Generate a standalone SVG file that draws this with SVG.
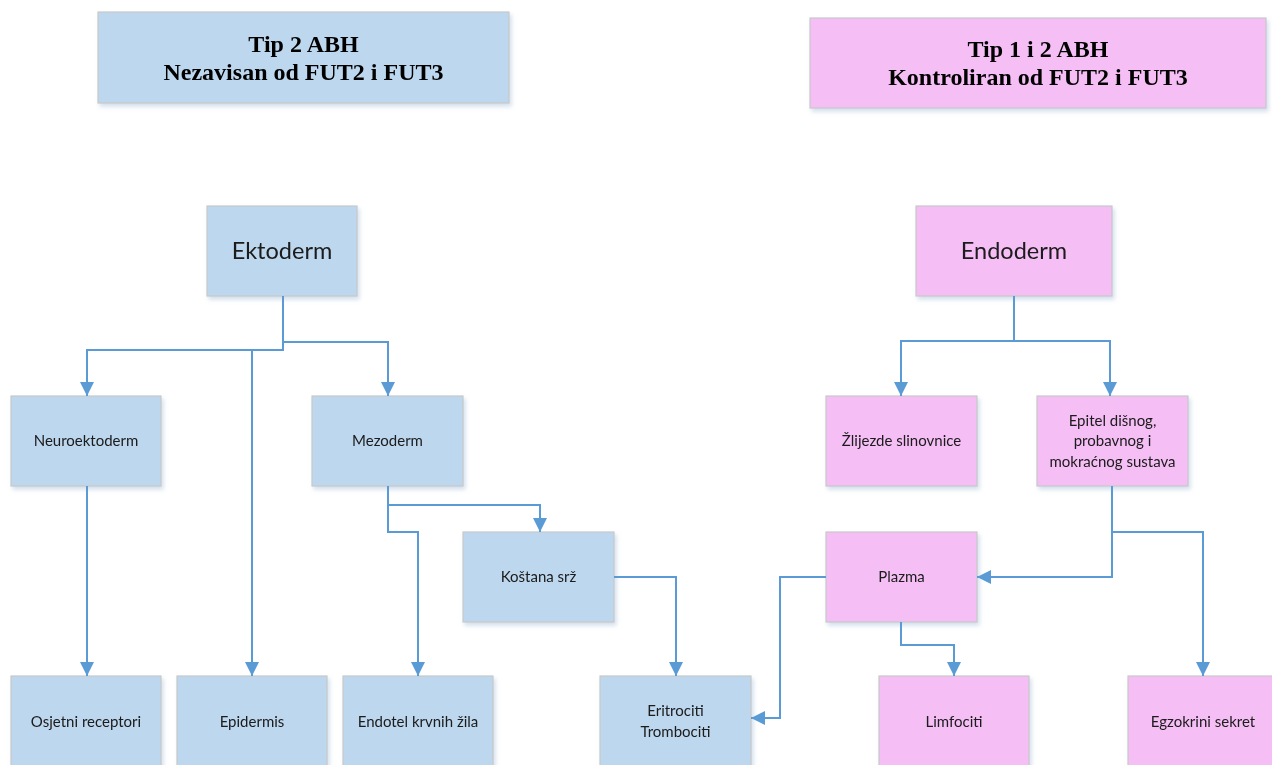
<svg xmlns="http://www.w3.org/2000/svg" width="1272" height="765" viewBox="0 0 1272 765">
<style>
.b{fill:#BDD7EE;stroke:#C9C9C9;stroke-width:1.2}
.p{fill:#F5BFF5;stroke:#C9C9C9;stroke-width:1.2}
.h{font-family:"Liberation Serif",serif;font-weight:bold;font-size:24px;fill:#000;text-anchor:middle}
.t{font-family:"Lato","Liberation Sans",sans-serif;font-size:15px;fill:#1a1a1a;text-anchor:middle}
.L{font-family:"Lato","Liberation Sans",sans-serif;font-size:23.5px;fill:#1a1a1a;text-anchor:middle}
.c{fill:none;stroke:#5B9BD5;stroke-width:2}
</style>
<defs>
<filter id="sh" x="-10%" y="-10%" width="130%" height="130%">
<feDropShadow dx="2" dy="3" stdDeviation="2" flood-color="#9DB7D5" flood-opacity="0.45"/>
</filter>
<marker id="a" viewBox="0 0 14 14" refX="14" refY="7" markerWidth="14" markerHeight="14" markerUnits="userSpaceOnUse" orient="auto">
<path d="M0,0 L14,7 L0,14 Z" fill="#5B9BD5"/>
</marker>
</defs>
<rect width="1272" height="765" fill="#fff"/>

<g id="hdr-left" filter="url(#sh)"><rect class="b" x="98" y="12" width="411" height="91"/>
<text class="h" x="303.5" y="52">Tip 2 ABH</text><text class="h" x="303.5" y="80">Nezavisan od FUT2 i FUT3</text></g>
<g id="hdr-right" filter="url(#sh)"><rect class="p" x="810" y="18" width="456" height="90"/>
<text class="h" x="1038" y="57">Tip 1 i 2 ABH</text><text class="h" x="1038" y="85">Kontroliran od FUT2 i FUT3</text></g>

<g id="ektoderm" filter="url(#sh)"><rect class="b" x="207" y="206" width="150" height="90"/><text class="L" x="282" y="259">Ektoderm</text></g>
<g id="endoderm" filter="url(#sh)"><rect class="p" x="916" y="206" width="196" height="90"/><text class="L" x="1014" y="259">Endoderm</text></g>

<g id="neuroektoderm" filter="url(#sh)"><rect class="b" x="11" y="396" width="150" height="90"/><text class="t" x="86" y="446">Neuroektoderm</text></g>
<g id="mezoderm" filter="url(#sh)"><rect class="b" x="312" y="396" width="151" height="90"/><text class="t" x="387.5" y="446">Mezoderm</text></g>
<g id="zlijezde" filter="url(#sh)"><rect class="p" x="826" y="396" width="151" height="90"/><text class="t" x="901.5" y="446">Žlijezde slinovnice</text></g>
<g id="epitel" filter="url(#sh)"><rect class="p" x="1037" y="396" width="151" height="90"/>
<text class="t" x="1112.5" y="426">Epitel dišnog,</text><text class="t" x="1112.5" y="446">probavnog i</text><text class="t" x="1112.5" y="467">mokraćnog sustava</text></g>

<g id="kostana" filter="url(#sh)"><rect class="b" x="463" y="532" width="151" height="90"/><text class="t" x="538.5" y="582">Koštana srž</text></g>
<g id="plazma" filter="url(#sh)"><rect class="p" x="826" y="532" width="151" height="90"/><text class="t" x="901.5" y="582">Plazma</text></g>

<g id="osjetni" filter="url(#sh)"><rect class="b" x="11" y="676" width="150" height="92"/><text class="t" x="86" y="727">Osjetni receptori</text></g>
<g id="epidermis" filter="url(#sh)"><rect class="b" x="177" y="676" width="150" height="92"/><text class="t" x="252" y="727">Epidermis</text></g>
<g id="endotel" filter="url(#sh)"><rect class="b" x="343" y="676" width="150" height="92"/><text class="t" x="418" y="727">Endotel krvnih žila</text></g>
<g id="eritrociti" filter="url(#sh)"><rect class="b" x="600" y="676" width="151" height="92"/>
<text class="t" x="675.5" y="716">Eritrociti</text><text class="t" x="675.5" y="737">Trombociti</text></g>
<g id="limfociti" filter="url(#sh)"><rect class="p" x="879" y="676" width="150" height="92"/><text class="t" x="954" y="727">Limfociti</text></g>
<g id="egzokrini" filter="url(#sh)"><rect class="p" x="1128" y="676" width="151" height="92"/><text class="t" x="1203" y="727">Egzokrini sekret</text></g>

<g id="connectors">
<path class="c" d="M283,296 V350 H87 V396" marker-end="url(#a)"/>
<path class="c" d="M283,296 V342 H388 V396" marker-end="url(#a)"/>
<path class="c" d="M283,296 V350 H252 V676" marker-end="url(#a)"/>
<path class="c" d="M87,486 V676" marker-end="url(#a)"/>
<path class="c" d="M388,486 V505 H540 V532" marker-end="url(#a)"/>
<path class="c" d="M388,486 V532 H418 V676" marker-end="url(#a)"/>
<path class="c" d="M614,577 H676 V676" marker-end="url(#a)"/>
<path class="c" d="M826,577 H780 V718 H751" marker-end="url(#a)"/>
<path class="c" d="M901,622 V645 H954 V676" marker-end="url(#a)"/>
<path class="c" d="M1014,296 V341 H901 V396" marker-end="url(#a)"/>
<path class="c" d="M1014,296 V341 H1110 V396" marker-end="url(#a)"/>
<path class="c" d="M1112,486 V577 H977" marker-end="url(#a)"/>
<path class="c" d="M1112,486 V532 H1203 V676" marker-end="url(#a)"/>
</g>
</svg>
